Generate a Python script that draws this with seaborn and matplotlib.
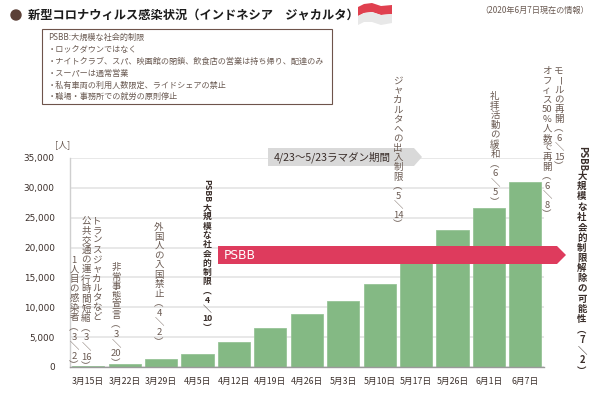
import re
import matplotlib
matplotlib.use("Agg")
import matplotlib.pyplot as plt
import pandas as pd
import seaborn as sns
from matplotlib.patches import Circle, Polygon, Rectangle

# data (5/17 is hidden behind the arrow, estimated)
dates = ["3月15日", "3月22日", "3月29日", "4月5日", "4月12日", "4月19日", "4月26日",
         "5月3日", "5月10日", "5月17日", "5月26日", "6月1日", "6月7日"]
cases = [150, 500, 1280, 2220, 4220, 6500, 8830, 11100, 13950, 18000, 23000, 26700, 31000]
y_ticks = [0, 5000, 10000, 15000, 20000, 25000, 30000, 35000]

title = "新型コロナウィルス感染状況（インドネシア　ジャカルタ）"
note = "（2020年6月7日現在の情報）"
box_lines = ["PSBB:大規模な社会的制限",
             "・ロックダウンではなく",
             "・ナイトクラブ、スパ、映画館の閉鎖、飲食店の営業は持ち帰り、配達のみ",
             "・スーパーは通常営業",
             "・私有車両の利用人数限定、ライドシェアの禁止",
             "・職場・事務所での就労の原則停止"]
event_texts = ["1人目の感染者︵3＼2︶",
               "トランスジャカルタなど",
               "公共交通の運行時間短縮︵3＼16︶",
               "非常事態宣言︵3＼20︶",
               "外国人の入国禁止︵4＼2︶",
               "ジャカルタへの出入制限︵5＼14︶",
               "礼拝活動の緩和︵6＼5︶",
               "モールの再開︵6＼15︶",
               "オフィス50%人数で再開︵6＼8︶"]
psbb_start = "PSBB大規模な社会的制限︵4＼10︶"
psbb_end = "PSBB大規模な社会的制限解除の可能性︵7＼2︶"

TEXT = "#6a5a52"
DARK = "#3a2e2a"
JP = ["Noto Sans CJK JP", "DejaVu Sans"]

sns.set_theme(style="whitegrid")
plt.rcParams["font.family"] = JP

fig = plt.figure(figsize=(6, 3.93), dpi=100, facecolor="white")
ax = fig.add_axes([70 / 600, (393 - 367) / 393, (543.6 - 70) / 600, (367 - 158) / 393])

df = pd.DataFrame({"date": dates, "cases": cases})
sns.barplot(data=df, x="date", y="cases", color="#84b984", saturation=1, width=0.88,
            edgecolor="#97c497", linewidth=0.6, ax=ax, zorder=2)
ax.set_ylim(0, 35000)
ax.set_yticks(y_ticks)
ax.set_yticklabels([f"{v:,}" for v in y_ticks], fontsize=6.4, color=DARK, family="DejaVu Sans")
ax.set_xlabel("")
ax.set_ylabel("")
ax.tick_params(axis="x", labelsize=6.3, labelcolor=DARK, pad=7, length=0)
ax.tick_params(axis="y", pad=11, length=0)
ax.grid(axis="x", visible=False)
ax.grid(axis="y", color="#e2e2e2", linewidth=1.1)
ax.set_axisbelow(True)
for side in ["top", "right"]:
    ax.spines[side].set_visible(False)
ax.spines["left"].set_color("#cfcfcf")
ax.spines["left"].set_linewidth(1)
ax.spines["bottom"].set_color("#9a9a9a")
ax.spines["bottom"].set_linewidth(1)

# overlay in pixel coords for the annotations
ov = fig.add_axes([0, 0, 1, 1], facecolor="none")
ov.set_xlim(0, 600)
ov.set_ylim(393, 0)
ov.axis("off")

ov.add_patch(Circle((16, 15), 5, color="#5b4037"))
ov.text(28, 15, title, fontsize=8.8, fontweight="bold", color="#1c1c1c", va="center")
ov.text(589, 10.5, note, fontsize=5.9, color=TEXT, va="center", ha="right")

# flag
ov.add_patch(Polygon([(358, 7), (364, 4), (372, 3), (381, 6), (392, 5), (392, 14), (381, 15),
                      (372, 12), (364, 13), (358, 16)], color="#e0404f", lw=0))
ov.add_patch(Polygon([(358, 16), (364, 13), (372, 12), (381, 15), (392, 14), (392, 23), (381, 25),
                      (372, 22), (364, 22), (358, 25)], color="#e8e8e8", lw=0))

# PSBB box
ov.add_patch(Rectangle((42, 29), 290, 75, facecolor="white", edgecolor="#6e544b", lw=0.8))
ov.text(48, 67, "\n".join(box_lines), fontsize=5.85, color=TEXT, va="center", linespacing=1.42)

ov.text(63, 145, "[人]", fontsize=6.5, color=TEXT, ha="center", va="center")

# period arrows
ov.add_patch(Polygon([(268, 148), (414, 148), (422, 157), (414, 166), (268, 166)], color="#d9d9d9", lw=0))
ov.text(274, 157, "4/23〜5/23ラマダン期間", fontsize=7.6, color=DARK, va="center")
ov.add_patch(Polygon([(218, 246), (557, 246), (566, 255), (557, 264), (218, 264)], color="#de3b5d", lw=0))
ov.text(224, 255.5, "PSBB", fontsize=8.8, color="white", va="center", family="DejaVu Sans")


def vtext(x, top, s, size=6.8, spacing=1.08, weight="normal", color=TEXT):
    # vertical writing: PSBB and the long vowel mark lie on their side, the rest is stacked
    renderer = fig.canvas.get_renderer()
    y = top
    for chunk in re.split(r"(PSBB|ー)", s):
        if not chunk:
            continue
        if chunk in ("PSBB", "ー"):
            span = 22 if chunk == "PSBB" else 8
            ov.text(x, y + span / 2, chunk, fontsize=size, color=color, fontweight=weight,
                    rotation=-90, ha="center", va="center")
            y += span + 1
        else:
            tokens = re.findall(r"\d+|.", chunk)
            t = ov.text(x, y, "\n".join(tokens), fontsize=size, color=color, fontweight=weight,
                        ha="center", va="top", linespacing=spacing)
            y += t.get_window_extent(renderer).height + 1


event_x = [74, 97, 86, 116, 159, 398, 495, 559, 547]
event_top = [256, 217, 217, 263, 223, 77, 92, 67, 67]
for ex, ey, etext in zip(event_x, event_top, event_texts):
    vtext(ex, ey, etext)
vtext(207, 180, psbb_start, size=6.3, spacing=1.04, weight="bold", color=DARK)
vtext(582, 148, psbb_end, size=6.8, spacing=1.03, weight="bold", color=DARK)

fig.savefig("out.png", dpi=100)
